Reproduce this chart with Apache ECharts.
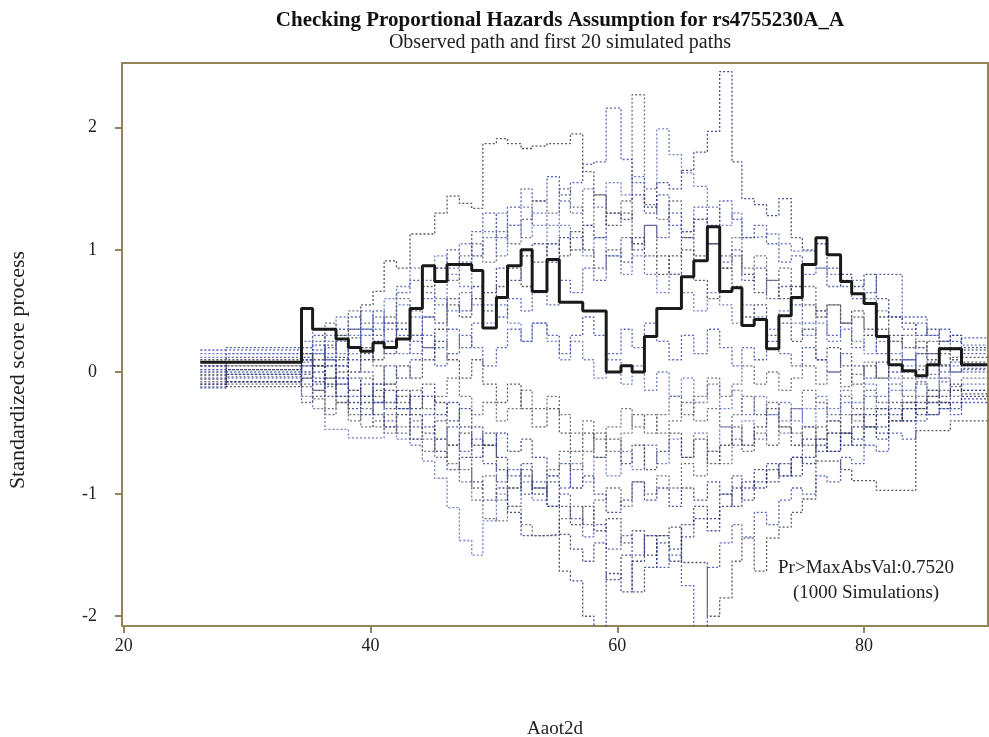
<!DOCTYPE html>
<html>
<head>
<meta charset="utf-8">
<script src="https://cdn.jsdelivr.net/npm/echarts@6/dist/echarts.min.js"></script>
<style>html,body{margin:0;padding:0;background:#fff}#c{width:989px;height:737px}</style>
</head>
<body>
<div id="c"></div>
<script>
// event times (x values where the step paths jump); last entry = end of paths
const times = [26.2, 28.3, 34.4, 35.3, 36.3, 37.2, 38.2, 39.2, 40.2, 41.1, 42.1, 43.2, 44.2, 45.2, 46.2, 47.2, 48.2, 49.1, 50.2, 51.1, 52.2, 53.1, 54.3, 55.3, 56.2, 57.2, 58.1, 59.1, 60.3, 61.2, 62.2, 63.2, 64.2, 65.2, 66.2, 67.3, 68.3, 69.3, 70.1, 71.1, 72.1, 73.1, 74.1, 75.0, 76.1, 77.0, 78.1, 79.0, 80.0, 81.0, 82.0, 83.1, 84.2, 85.1, 86.1, 87.0, 87.9, 90.0];

const observed = [0.08, 0.08, 0.52, 0.35, 0.35, 0.27, 0.20, 0.17, 0.24, 0.20, 0.27, 0.52, 0.87, 0.74, 0.88, 0.88, 0.83, 0.36, 0.61, 0.87, 1.00, 0.66, 0.92, 0.57, 0.57, 0.50, 0.50, 0.00, 0.05, 0.00, 0.29, 0.52, 0.52, 0.78, 0.91, 1.19, 0.66, 0.69, 0.38, 0.43, 0.19, 0.46, 0.61, 0.88, 1.10, 0.96, 0.74, 0.64, 0.56, 0.29, 0.06, 0.01, -0.03, 0.06, 0.19, 0.19, 0.06];

const sim01 = [0.10, 0.10, 0.15, 0.05, 0.20, 0.30, 0.35, 0.55, 0.66, 0.91, 0.85, 1.13, 1.13, 1.30, 1.44, 1.38, 1.34, 1.87, 1.91, 1.87, 1.83, 1.85, 1.87, 1.87, 1.95, 1.64, 1.45, 1.20, 1.30, 1.05, 1.20, 0.95, 0.80, 1.00, 0.75, 0.60, 0.85, 0.70, 0.45, 0.55, 0.30, 0.40, 0.25, 0.35, 0.10, 0.20, 0.05, -0.10, 0.05, -0.05, 0.10, 0.00, 0.15, 0.10, 0.05, 0.12, 0.08];
const sim02 = [0.05, 0.12, 0.20, 0.30, 0.15, 0.35, 0.45, 0.30, 0.50, 0.40, 0.65, 0.75, 0.60, 0.85, 1.00, 0.90, 1.15, 1.30, 1.10, 1.35, 1.50, 1.40, 1.60, 1.45, 1.55, 1.70, 1.72, 2.16, 1.74, 1.55, 1.30, 1.45, 1.20, 1.10, 1.25, 1.05, 0.90, 1.00, 0.75, 0.85, 0.60, 0.70, 0.55, 0.40, 0.50, 0.30, 0.40, 0.20, 0.30, 0.15, 0.25, 0.10, 0.20, 0.15, 0.25, 0.20, 0.15];
const sim03 = [-0.02, 0.05, 0.10, 0.25, 0.40, 0.30, 0.50, 0.40, 0.30, 0.45, 0.60, 0.50, 0.70, 0.85, 0.75, 0.95, 1.05, 0.90, 1.15, 1.05, 1.25, 1.40, 1.30, 1.50, 1.35, 1.20, 1.45, 1.30, 1.40, 2.27, 1.37, 1.25, 1.40, 1.15, 1.25, 1.05, 0.95, 1.10, 0.85, 0.95, 0.75, 0.85, 0.60, 0.70, 0.50, 0.55, 0.40, 0.45, 0.30, 0.35, 0.25, 0.30, 0.20, 0.25, 0.15, 0.20, 0.18];
const sim04 = [0.15, 0.15, 0.05, 0.18, 0.10, 0.25, 0.15, 0.35, 0.45, 0.35, 0.55, 0.45, 0.65, 0.55, 0.80, 0.70, 0.95, 1.10, 0.95, 1.20, 1.10, 1.30, 1.20, 1.40, 1.30, 1.50, 1.35, 1.55, 1.45, 1.60, 1.50, 1.99, 1.78, 1.63, 1.52, 1.35, 1.20, 1.30, 1.10, 1.11, 1.13, 1.05, 0.99, 0.99, 0.85, 0.80, 0.70, 0.75, 0.60, 0.50, 0.45, 0.35, 0.40, 0.30, 0.25, 0.30, 0.22];
const sim05 = [-0.05, 0.02, 0.12, -0.05, 0.10, 0.05, 0.20, 0.10, 0.25, 0.15, 0.35, 0.25, 0.45, 0.40, 0.60, 0.50, 0.70, 0.65, 0.85, 0.75, 0.95, 1.05, 0.90, 1.10, 1.00, 1.20, 1.10, 1.30, 1.25, 1.45, 1.35, 1.55, 1.50, 1.65, 1.80, 1.97, 2.46, 1.72, 1.42, 1.37, 1.28, 1.42, 1.10, 1.00, 1.05, 0.85, 0.80, 0.70, 0.80, 0.60, 0.45, 0.40, 0.30, 0.35, 0.25, 0.30, 0.20];
const sim06 = [0.05, 0.08, -0.02, 0.10, 0.22, 0.12, 0.28, 0.20, 0.10, 0.25, 0.40, 0.30, 0.20, 0.35, 0.55, 0.45, 0.60, 0.50, 0.70, 0.85, 0.70, 0.90, 1.05, 0.95, 1.15, 1.00, 0.85, 1.00, 0.90, 1.10, 0.95, 0.80, 0.95, 1.10, 0.95, 1.05, 0.85, 0.95, 0.80, 0.65, 0.75, 0.60, 0.70, 0.55, 0.45, 0.55, 0.40, 0.50, 0.35, 0.45, 0.30, 0.20, 0.25, 0.15, 0.20, 0.10, 0.12];
const sim07 = [0.02, -0.02, 0.08, 0.15, 0.05, -0.05, 0.10, 0.00, -0.10, 0.05, -0.05, 0.10, 0.20, 0.05, 0.15, 0.30, 0.20, 0.05, 0.20, 0.35, 0.25, 0.40, 0.30, 0.15, 0.30, 0.45, 0.30, 0.15, 0.35, 0.20, 0.40, 0.25, 0.10, 0.30, 0.15, 0.35, 0.20, 0.05, 0.20, 0.10, 0.25, 0.15, 0.05, 0.20, 0.10, 0.00, 0.15, 0.05, -0.05, 0.08, 0.00, 0.10, 0.02, -0.05, 0.05, 0.00, 0.03];
const sim08 = [-0.08, -0.04, -0.10, -0.20, -0.10, -0.25, -0.15, -0.05, -0.20, -0.10, -0.25, -0.15, -0.30, -0.20, -0.05, -0.20, -0.35, -0.25, -0.40, -0.30, -0.15, -0.30, -0.20, -0.35, -0.50, -0.40, -0.55, -0.45, -0.30, -0.45, -0.35, -0.50, -0.40, -0.25, -0.40, -0.30, -0.45, -0.35, -0.20, -0.35, -0.25, -0.40, -0.30, -0.15, -0.25, -0.35, -0.20, -0.30, -0.15, -0.25, -0.10, -0.20, -0.08, -0.15, -0.05, -0.12, -0.05];
const sim09 = [-0.12, -0.05, -0.20, -0.30, -0.47, -0.47, -0.54, -0.54, -0.54, -0.45, -0.55, -0.60, -0.73, -0.87, -1.11, -1.38, -1.50, -1.22, -1.00, -1.10, -0.90, -1.05, -0.85, -0.95, -0.75, -0.90, -0.70, -0.85, -0.65, -0.80, -0.60, -0.75, -0.55, -0.70, -0.50, -0.65, -0.45, -0.60, -0.40, -0.55, -0.35, -0.50, -0.30, -0.45, -0.30, -0.40, -0.25, -0.35, -0.20, -0.30, -0.15, -0.25, -0.10, -0.20, -0.08, -0.15, -0.10];
const sim10 = [0.00, -0.08, -0.05, -0.15, -0.05, -0.20, -0.30, -0.20, -0.35, -0.45, -0.35, -0.55, -0.45, -0.65, -0.80, -0.70, -0.90, -1.05, -0.95, -1.15, -1.34, -1.34, -1.33, -1.63, -1.71, -2.00, -2.12, -1.65, -1.80, -1.55, -1.34, -1.34, -1.45, -1.25, -1.10, -1.20, -1.00, -1.10, -0.90, -0.95, -0.80, -0.85, -0.70, -0.75, -0.60, -0.65, -0.50, -0.55, -0.45, -0.50, -0.35, -0.40, -0.30, -0.35, -0.25, -0.30, -0.22];
const sim11 = [-0.10, -0.12, -0.05, 0.05, -0.10, 0.00, -0.15, -0.25, -0.15, -0.30, -0.20, -0.35, -0.50, -0.40, -0.60, -0.50, -0.70, -0.60, -0.80, -0.95, -0.85, -1.00, -0.90, -1.10, -1.25, -1.10, -1.30, -1.20, -1.40, -1.30, -1.50, -1.34, -1.27, -1.56, -1.56, -2.00, -1.85, -1.55, -1.36, -1.63, -1.36, -1.27, -1.15, -1.04, -0.73, -0.73, -0.80, -0.89, -0.89, -0.97, -0.97, -0.97, -0.48, -0.48, -0.48, -0.40, -0.40];
const sim12 = [0.05, 0.00, 0.10, 0.00, -0.12, -0.05, -0.20, -0.10, -0.25, -0.40, -0.30, -0.45, -0.35, -0.55, -0.45, -0.65, -0.55, -0.75, -0.90, -0.80, -1.00, -0.90, -1.10, -1.00, -1.20, -1.35, -1.25, -1.45, -1.34, -1.50, -1.34, -1.60, -1.50, -1.75, -2.30, -1.60, -1.40, -1.25, -1.35, -1.15, -1.25, -1.05, -0.95, -1.00, -0.85, -0.90, -0.70, -0.75, -0.60, -0.65, -0.50, -0.55, -0.40, -0.35, -0.30, -0.35, -0.25];
const sim13 = [-0.03, 0.05, -0.12, -0.22, -0.30, -0.20, -0.35, -0.45, -0.40, -0.50, -0.45, -0.55, -0.65, -0.55, -0.75, -0.90, -1.05, -1.20, -1.22, -1.10, -1.25, -1.34, -1.34, -1.20, -1.10, -1.25, -1.05, -0.95, -1.10, -0.90, -1.00, -0.85, -0.95, -0.75, -0.85, -0.65, -0.75, -0.55, -0.65, -0.50, -0.60, -0.45, -0.50, -0.60, -0.45, -0.50, -0.35, -0.40, -0.30, -0.35, -0.25, -0.30, -0.20, -0.25, -0.15, -0.20, -0.15];
const sim14 = [0.12, 0.18, 0.25, 0.15, 0.30, 0.45, 0.35, 0.50, 0.40, 0.60, 0.70, 0.85, 0.75, 0.95, 0.85, 1.05, 0.95, 1.15, 1.30, 1.20, 1.35, 1.20, 1.05, 1.20, 1.10, 0.95, 1.10, 0.95, 0.80, 0.95, 0.80, 0.65, 0.80, 0.65, 0.50, 0.65, 0.55, 0.40, 0.55, 0.45, 0.35, 0.50, 0.40, 0.30, 0.40, 0.25, 0.35, 0.25, 0.15, 0.25, 0.15, 0.05, 0.15, 0.08, 0.00, 0.08, 0.05];
const sim15 = [-0.10, -0.02, 0.05, -0.10, -0.20, -0.10, -0.25, -0.35, -0.25, -0.15, -0.30, -0.20, -0.10, -0.25, -0.40, -0.30, -0.45, -0.60, -0.50, -0.65, -0.55, -0.70, -0.85, -0.75, -0.95, -0.85, -1.00, -1.15, -1.05, -0.90, -1.05, -0.95, -1.10, -0.95, -1.05, -0.90, -1.00, -0.85, -0.95, -0.80, -0.90, -0.75, -0.85, -0.70, -0.55, -0.65, -0.50, -0.60, -0.45, -0.55, -0.40, -0.30, -0.35, -0.25, -0.30, -0.25, -0.20];
const sim16 = [0.08, 0.02, 0.15, 0.05, -0.05, 0.10, 0.00, 0.15, 0.05, -0.10, 0.05, -0.05, 0.10, 0.25, 0.10, -0.05, 0.10, -0.10, -0.25, -0.10, -0.30, -0.45, -0.30, -0.50, -0.65, -0.50, -0.70, -0.55, -0.75, -0.60, -0.80, -0.65, -0.50, -0.70, -0.55, -0.75, -0.60, -0.45, -0.60, -0.45, -0.30, -0.45, -0.60, -0.45, -0.55, -0.40, -0.50, -0.35, -0.45, -0.30, -0.40, -0.25, -0.30, -0.20, -0.25, -0.15, -0.18];
const sim17 = [0.18, 0.20, 0.10, 0.22, 0.12, 0.05, 0.20, 0.35, 0.25, 0.40, 0.30, 0.15, 0.30, 0.20, 0.35, 0.20, 0.40, 0.55, 0.45, 0.60, 0.50, 0.65, 0.55, 0.75, 0.65, 0.85, 0.75, 0.95, 1.10, 1.00, 1.20, 1.10, 1.30, 1.15, 1.35, 1.20, 1.40, 1.25, 1.10, 1.20, 1.05, 0.90, 0.95, 0.80, 0.85, 0.70, 0.75, 0.60, 0.65, 0.80, 0.80, 0.45, 0.45, 0.30, 0.35, 0.25, 0.28];
const sim18 = [-0.06, -0.10, -0.25, -0.15, -0.35, -0.25, -0.40, -0.30, -0.45, -0.35, -0.50, -0.40, -0.55, -0.70, -0.60, -0.80, -0.95, -0.85, -1.05, -0.95, -0.80, -0.95, -0.80, -0.65, -0.80, -0.65, -0.50, -0.65, -0.50, -0.35, -0.50, -0.35, -0.20, -0.35, -0.20, -0.05, -0.20, -0.10, 0.05, -0.10, 0.00, -0.15, -0.05, 0.05, -0.10, 0.00, -0.12, -0.02, 0.08, -0.05, 0.05, -0.05, 0.05, -0.02, 0.06, 0.00, 0.02];
const sim19 = [0.02, 0.15, 0.20, 0.35, 0.25, 0.15, 0.30, 0.20, 0.35, 0.25, 0.15, 0.30, 0.45, 0.60, 0.50, 0.65, 0.55, 0.40, 0.55, 0.40, 0.25, 0.40, 0.25, 0.10, 0.25, 0.10, -0.05, 0.10, -0.10, 0.05, -0.15, 0.00, -0.20, -0.05, -0.25, -0.10, -0.30, -0.15, -0.35, -0.20, -0.35, -0.25, -0.40, -0.30, -0.20, -0.30, -0.15, -0.25, -0.10, -0.20, -0.05, -0.15, -0.05, 0.05, -0.05, 0.05, 0.00];
const sim20 = [-0.13, -0.08, 0.00, -0.08, 0.05, -0.10, -0.05, -0.20, -0.10, -0.25, -0.15, -0.30, -0.20, -0.35, -0.25, -0.45, -0.60, -0.50, -0.70, -0.85, -0.75, -0.95, -1.10, -1.33, -1.45, -1.55, -1.40, -1.70, -1.50, -1.80, -1.60, -1.40, -1.55, -1.35, -1.20, -1.30, -1.10, -0.95, -1.05, -0.90, -0.75, -0.85, -0.70, -0.55, -0.65, -0.50, -0.60, -0.45, -0.35, -0.45, -0.30, -0.40, -0.25, -0.15, -0.20, -0.10, -0.15];

const simulated = [sim01, sim02, sim03, sim04, sim05, sim06, sim07, sim08, sim09, sim10, sim11, sim12, sim13, sim14, sim15, sim16, sim17, sim18, sim19, sim20];
const xTicks = [20, 40, 60, 80];
const yTicks = [-2, -1, 0, 1, 2];

const simColors = ['#3a3a48', '#3848a8', '#5a5a66', '#5868b8', '#26307a'];
const toPath = vals => times.map((t, i) => [t, vals[Math.min(i, vals.length - 1)]]);

const axisColor = '#93845a';
const serif = '"Liberation Serif", "DejaVu Serif", serif';

const series = simulated.map((vals, k) => ({
  type: 'line', step: 'end', showSymbol: false, silent: true,
  data: toPath(vals),
  lineStyle: { color: simColors[k % simColors.length], width: 1.3, type: [2, 2], opacity: 0.85 },
  z: 2
}));
series.push({
  type: 'line', step: 'end', showSymbol: false, silent: true,
  data: toPath(observed),
  lineStyle: { color: '#1a1a1a', width: 3 },
  z: 5
});

const chart = echarts.init(document.getElementById('c'), null, { renderer: 'canvas' });
chart.setOption({
  animation: false,
  backgroundColor: '#ffffff',
  title: {
    text: 'Checking Proportional Hazards Assumption for rs4755230A_A',
    subtext: 'Observed path and first 20 simulated paths',
    left: 555, top: 5, textAlign: 'center', itemGap: 2,
    textStyle: { fontFamily: serif, fontSize: 21, fontWeight: 'bold', color: '#111' },
    subtextStyle: { fontFamily: serif, fontSize: 20, color: '#222' }
  },
  grid: { left: 122, right: 1, top: 63, bottom: 111, show: true, borderColor: axisColor, borderWidth: 2, outerBoundsMode: 'none' },
  xAxis: {
    type: 'value', min: 19.85, max: 90.05,
    name: 'Aaot2d', nameLocation: 'middle', nameGap: 94,
    nameTextStyle: { fontFamily: serif, fontSize: 19, color: '#222' },
    axisLine: { onZero: false, lineStyle: { color: axisColor, width: 2 } },
    axisTick: { customValues: xTicks, length: 7, lineStyle: { color: axisColor, width: 2 } },
    axisLabel: { customValues: xTicks, margin: 11, fontFamily: serif, fontSize: 18, color: '#222' },
    splitLine: { show: false }
  },
  yAxis: {
    type: 'value', min: -2.08, max: 2.53,
    axisLine: { show: true, onZero: false, lineStyle: { color: axisColor, width: 2 } },
    axisTick: { show: true, customValues: yTicks, length: 7, lineStyle: { color: axisColor, width: 2 } },
    axisLabel: { customValues: yTicks, margin: 25, fontFamily: serif, fontSize: 18, color: '#222' },
    splitLine: { show: false }
  },
  graphic: [
    { type: 'text', x: 18, y: 370, rotation: Math.PI / 2, style: { text: 'Standardized score process', align: 'center', verticalAlign: 'middle', font: '22px ' + serif, fill: '#222' }, z: 10 },
    { type: 'text', x: 866, y: 568, style: { text: 'Pr>MaxAbsVal:0.7520', align: 'center', verticalAlign: 'middle', font: '19px ' + serif, fill: '#222' }, z: 10 },
    { type: 'text', x: 866, y: 593, style: { text: '(1000 Simulations)', align: 'center', verticalAlign: 'middle', font: '19px ' + serif, fill: '#222' }, z: 10 }
  ],
  series: series
});
</script>
</body>
</html>
